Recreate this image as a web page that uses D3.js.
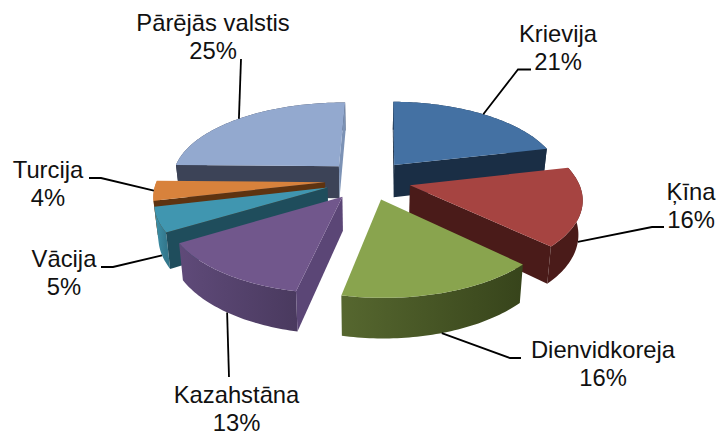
<!DOCTYPE html>
<html lang="lv">
<head>
<meta charset="utf-8">
<style>
  html, body { margin: 0; padding: 0; background: #fff; }
  svg { display: block; }
  text { font-family: "Liberation Sans", Arial, sans-serif; font-size: 23.8px; fill: #111; text-anchor: middle; }
</style>
</head>
<body>
<div id="chart"></div>
<script src="https://cdn.jsdelivr.net/npm/d3@7"></script>
<script>
// Data
const categories = ["Krievija", "Ķīna", "Dienvidkoreja", "Kazahstāna", "Vācija", "Turcija", "Pārējās valstis"];
const values = [21, 16, 16, 13, 5, 4, 25];

// Colours, same order as the categories
const topColors = ["#4471A3", "#A64441", "#89A44E", "#71578C", "#4096B0", "#D8823C", "#93A9CF"];
const cutStartColors = ["#1A2E45", "#4A1B19", "#46552A", "#5B4676", "#1F4D5C", "#5E3310", "#3C4357"];
const cutEndColors = ["#1A2E45", "#4A1B19", "#46552A", "#5B4676", "#1F4D5C", "#5E3310", "#7C92B5"];
const wallLeft = ["#1A2E45", "#4A1B19", "#56672F", "#5F4A79", "#3F93AB", "#C97836", "#3C4357"];
const wallRight = ["#1A2E45", "#4A1B19", "#37441B", "#4A3A5F", "#33788D", "#C97836", "#3C4357"];

// Label layout: centre of the text, first baseline, and leader bends
const labelLayout = [
  { x: 558, y: 42, bend: [[518, 69.5], [531, 69.5]] },
  { x: 691, y: 200, bend: [[652, 227], [664, 227]] },
  { x: 603, y: 358, bend: [[510, 358], [521, 358]] },
  { x: 236.5, y: 403, bend: [[229, 377]] },
  { x: 64, y: 267, bend: [[113, 267], [101, 267]] },
  { x: 48, y: 178, bend: [[101, 178], [89, 178]] },
  { x: 213, y: 31, bend: [[241, 59]] }
];

const width = 723, height = 439;

// Perspective of the pie plane (u right, v towards the viewer, radius = 1)
const cx = 368, cy = 180, scaleU = 168, scaleV = 77, persp = 0.15;
const explode = 0.256, depth = 33, shrink = 0.02;
const firstAngle = Math.PI / 180; // the pie is turned about one degree

function project(u, v, z) {
  const w = 1 / (1 - persp * v);
  return [cx + scaleU * u * w * (1 - shrink * z), cy + scaleV * v * w + depth * w * z];
}

const svg = d3.select("#chart").append("svg")
  .attr("width", width)
  .attr("height", height);

const defs = svg.append("defs");
const line = d3.line();

const pie = d3.pie().sort(null)
  .startAngle(firstAngle)
  .endAngle(firstAngle + 2 * Math.PI)(values)
  .map((d, i) => {
    const mid = (d.startAngle + d.endAngle) / 2;
    return {
      i: i,
      start: d.startAngle,
      end: d.endAngle,
      mid: mid,
      du: Math.sin(mid) * explode,
      dv: -Math.cos(mid) * explode
    };
  });

// point on the slice: r = 0 is the apex, r = 1 the rim
const point = (s, a, r, z) => project(s.du + r * Math.sin(a), s.dv - r * Math.cos(a), z);

function arcAngles(s) {
  const n = Math.ceil((s.end - s.start) / 0.02);
  return d3.range(n + 1).map(k => s.start + (s.end - s.start) * k / n);
}

// cut wall is visible only if it hangs away from the top face
function cutVisible(s, a, other) {
  const p = point(s, 0, 0, 0), c = point(s, a, 1, 0), o = point(s, other, 1, 0);
  const ex = c[0] - p[0], ey = c[1] - p[1];
  const toDown = ex * 1;
  const toOther = ex * (o[1] - p[1]) - ey * (o[0] - p[0]);
  return toDown * toOther < 0;
}

// back to front
const order = pie.slice().sort((a, b) => a.dv - b.dv);

order.forEach(s => {
  const g = svg.append("g").attr("class", "slice-" + s.i);
  const angles = arcAngles(s);
  const rimTop = angles.map(a => point(s, a, 1, 0));
  const rimBottom = angles.map(a => point(s, a, 1, 1));

  const xs = rimTop.map(p => p[0]);
  const gradId = "wall" + s.i;
  const grad = defs.append("linearGradient")
    .attr("id", gradId)
    .attr("gradientUnits", "userSpaceOnUse")
    .attr("x1", d3.min(xs)).attr("x2", d3.max(xs))
    .attr("y1", 0).attr("y2", 0);
  grad.append("stop").attr("offset", 0).attr("stop-color", wallLeft[s.i]);
  grad.append("stop").attr("offset", 1).attr("stop-color", wallRight[s.i]);

  g.append("path")
    .attr("d", line(rimTop.concat(rimBottom.slice().reverse())) + "Z")
    .attr("fill", "url(#" + gradId + ")");

  [[s.start, s.end, cutStartColors], [s.end, s.start, cutEndColors]].forEach(([a, other, colors]) => {
    if (!cutVisible(s, a, other)) return;
    const quad = [point(s, a, 0, 0), point(s, a, 1, 0), point(s, a, 1, 1), point(s, a, 0, 1)];
    g.append("path")
      .attr("d", line(quad) + "Z")
      .attr("fill", colors[s.i]);
  });

  g.append("path")
    .attr("d", line([point(s, 0, 0, 0)].concat(rimTop)) + "Z")
    .attr("fill", topColors[s.i]);
});

// Leaders and labels
pie.forEach(s => {
  const rimV = s.dv - Math.cos(s.mid);
  const z = rimV > 0.2 ? 1 : 0;
  const layout = labelLayout[s.i];
  svg.append("path")
    .attr("d", line([point(s, s.mid, 1, z)].concat(layout.bend)))
    .attr("fill", "none")
    .attr("stroke", "#000")
    .attr("stroke-width", 1.8);
  const label = svg.append("text").attr("x", layout.x).attr("y", layout.y);
  label.append("tspan").attr("x", layout.x).text(categories[s.i]);
  label.append("tspan").attr("x", layout.x).attr("dy", 28.3).text(d3.format("d")(values[s.i]) + "%");
});
</script>
</body>
</html>
